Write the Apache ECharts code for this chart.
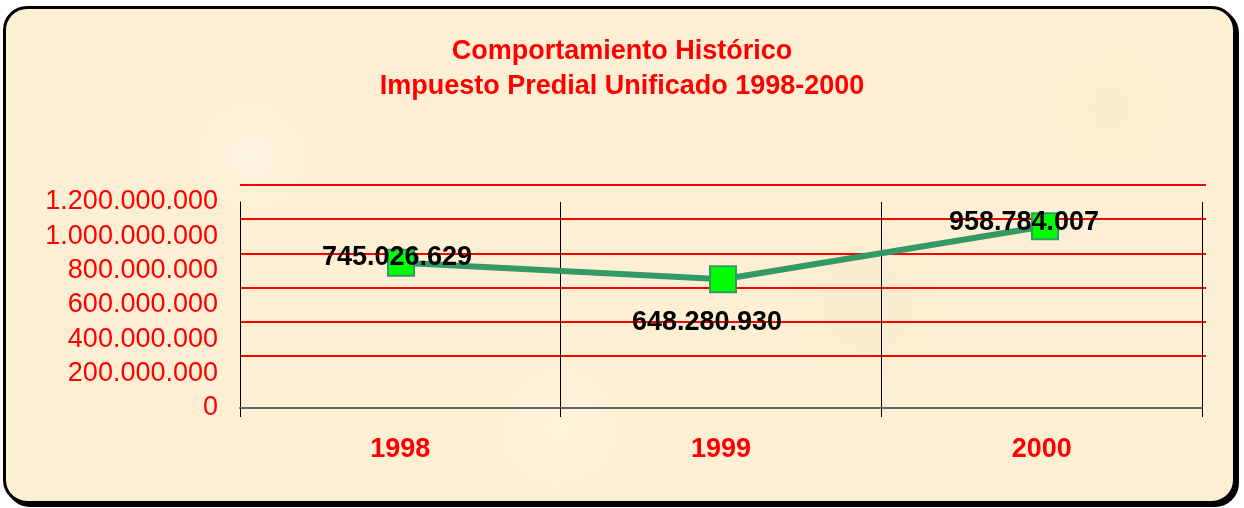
<!DOCTYPE html>
<html>
<head>
<meta charset="utf-8">
<script src="https://cdn.jsdelivr.net/npm/echarts@6/dist/echarts.min.js"></script>
<style>
  html, body { margin: 0; padding: 0; background: #ffffff; }
  #frame {
    position: absolute; left: 3px; top: 6px; width: 1227px; height: 492px;
    border: 3px solid #000; border-radius: 24px;
    box-shadow: 3px 3px 0 #000;
    background: #fcefd3;
    background-image:
      radial-gradient(circle at 20% 30%, rgba(255,250,235,0.5) 0, rgba(255,250,235,0) 60px),
      radial-gradient(circle at 70% 60%, rgba(245,228,190,0.3) 0, rgba(245,228,190,0) 80px),
      radial-gradient(circle at 45% 85%, rgba(255,248,230,0.45) 0, rgba(255,248,230,0) 70px),
      radial-gradient(circle at 90% 20%, rgba(248,232,200,0.35) 0, rgba(248,232,200,0) 70px);
  }
  #chart { position: absolute; left: 0; top: 0; width: 1244px; height: 508px; }
</style>
</head>
<body>
<div id="frame"></div>
<div id="chart"></div>
<script>
// ---- data ----
const titleLines = ['Comportamiento Histórico', 'Impuesto Predial Unificado 1998-2000'];
const categories = ['1998', '1999', '2000'];
const values = [745026629, 648280930, 958784007];
const yMin = 0;
const yMax = 1200000000;
const yStep = 200000000;

// ---- style ----
const FONT = 'Arial, "Liberation Sans", sans-serif';
const labelOffsets = [[-4, -5], [-16, 43], [-21, -4]];

function dots(n) {
  const s = String(Math.round(n));
  return s.replace(/\B(?=(\d{3})+(?!\d))/g, '.');
}

const chart = echarts.init(document.getElementById('chart'), null, { renderer: 'canvas' });

const option = {
  backgroundColor: 'transparent',
  animation: false,
  title: {
    text: titleLines.join('\n'),
    left: 'center',
    top: 29,
    textStyle: { color: '#ff0000', fontFamily: FONT, fontWeight: 'bold', fontSize: 27, lineHeight: 35 }
  },
  grid: [
    { left: 240, right: 42, top: 202, bottom: 100 },
    { left: 240, right: 38, top: 185, bottom: 118 }
  ],
  xAxis: [
    {
      gridIndex: 0, type: 'category', data: categories, boundaryGap: true,
      axisLine: { show: true, lineStyle: { color: '#666666', width: 2 } },
      axisTick: { show: true, length: 9, lineStyle: { color: '#000000', width: 1 } },
      axisLabel: { color: '#ff0000', fontFamily: FONT, fontWeight: 'bold', fontSize: 27, margin: 28 },
      splitLine: { show: true, lineStyle: { color: '#000000', width: 1 } }
    },
    {
      gridIndex: 1, type: 'category', data: categories, boundaryGap: true, show: false
    }
  ],
  yAxis: [
    {
      gridIndex: 0, type: 'value', min: yMin, max: yMax, interval: yStep,
      axisLine: { show: true, lineStyle: { color: '#000000', width: 1 } },
      axisTick: { show: false },
      splitLine: { show: false },
      axisLabel: { color: '#ff0000', fontFamily: FONT, fontSize: 27, margin: 22, formatter: v => dots(v) }
    },
    {
      gridIndex: 1, type: 'value', min: yMin, max: yMax, interval: yStep,
      axisLine: { show: false }, axisTick: { show: false }, axisLabel: { show: false },
      splitLine: { show: true, showMinLine: false, lineStyle: { color: '#ff0000', width: 2 } }
    }
  ],
  series: [
    {
      type: 'line',
      xAxisIndex: 1, yAxisIndex: 1,
      data: values.map((v, i) => ({
        value: v,
        label: { offset: labelOffsets[i] }
      })),
      lineStyle: { color: '#339966', width: 6 },
      symbol: 'rect',
      symbolSize: 26,
      itemStyle: { color: '#00ff00', borderColor: '#339966', borderWidth: 2 },
      label: {
        show: true, position: 'inside',
        color: '#000000', fontFamily: FONT, fontWeight: 'bold', fontSize: 27,
        formatter: p => dots(p.value)
      },
      z: 5
    }
  ]
};

chart.setOption(option);
</script>
</body>
</html>
